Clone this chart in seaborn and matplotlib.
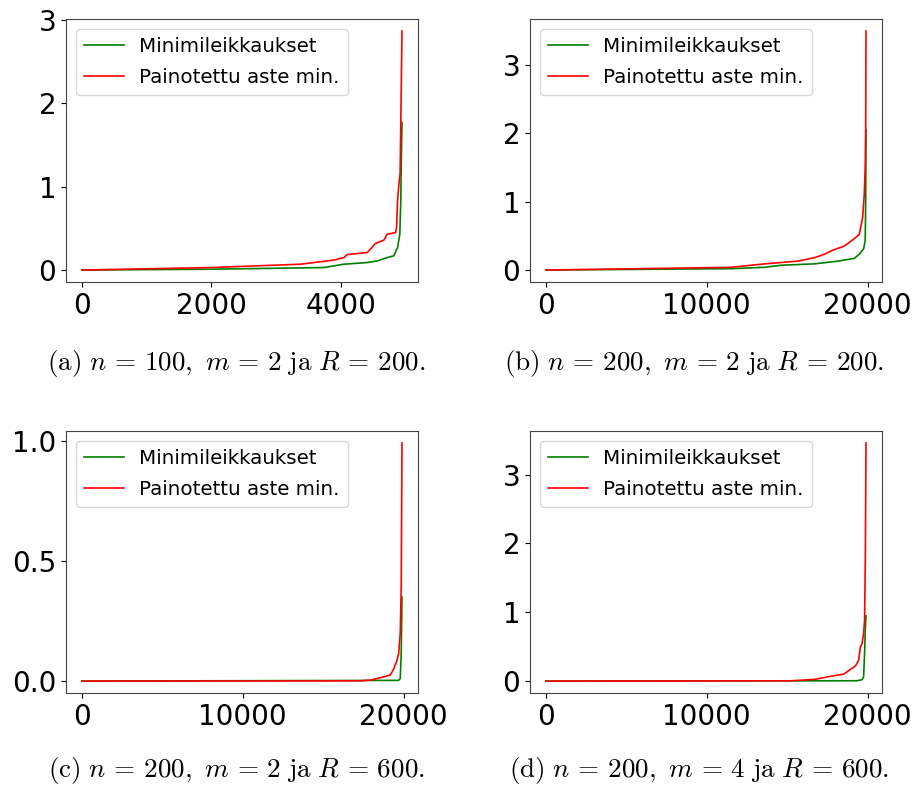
import numpy as np
import pandas as pd
import matplotlib
matplotlib.use("Agg")
import matplotlib.pyplot as plt
import seaborn as sns

# Sorted values, (x, y) knots per curve
# (a) n=100, m=2, R=200
a_green_x = [0, 2000, 3740, 4050, 4410, 4570, 4720, 4820, 4880, 4915, 4930, 4940, 4949]
a_green_y = [0.0, 0.01, 0.03, 0.07, 0.09, 0.11, 0.15, 0.17, 0.27, 0.43, 0.83, 1.4, 1.77]
a_red_x = [0, 2000, 3380, 3900, 4050, 4100, 4410, 4460, 4540, 4670, 4720, 4850, 4865, 4880, 4900, 4920, 4949]
a_red_y = [0.0, 0.03, 0.07, 0.12, 0.15, 0.185, 0.21, 0.25, 0.32, 0.36, 0.43, 0.45, 0.51, 0.83, 1.02, 1.16, 2.87]

# (b) n=200, m=2, R=200
b_green_x = [0, 11520, 13590, 14620, 16690, 18140, 19170, 19480, 19750, 19850, 19880, 19899]
b_green_y = [0.0, 0.02, 0.04, 0.07, 0.09, 0.13, 0.17, 0.23, 0.31, 0.43, 1.0, 2.05]
b_red_x = [0, 11520, 13590, 15650, 16690, 17310, 17830, 18550, 19070, 19480, 19690, 19790, 19850, 19880, 19899]
b_red_y = [0.0, 0.04, 0.09, 0.13, 0.18, 0.23, 0.29, 0.35, 0.44, 0.52, 0.77, 1.1, 1.5, 2.08, 3.49]

# (c) n=200, m=2, R=600
c_green_x = [0, 19690, 19790, 19850, 19899]
c_green_y = [0.0, 0.003, 0.011, 0.115, 0.35]
c_red_x = [0, 17310, 17930, 18550, 19170, 19380, 19590, 19690, 19790, 19850, 19899]
c_red_y = [0.0, 0.001, 0.004, 0.014, 0.025, 0.05, 0.087, 0.115, 0.2, 0.39, 0.993]

# (d) n=200, m=4, R=600
d_green_x = [0, 19340, 19650, 19750, 19810, 19860, 19899]
d_green_y = [0.0, 0.005, 0.02, 0.06, 0.4, 0.78, 0.95]
d_red_x = [0, 15210, 16660, 17280, 17690, 18510, 18930, 19240, 19440, 19550, 19650, 19750, 19810, 19860, 19899]
d_red_y = [0.0, 0.004, 0.024, 0.05, 0.07, 0.1, 0.17, 0.22, 0.3, 0.5, 0.54, 0.69, 0.88, 1.84, 3.46]

labels = ["Minimileikkaukset", "Painotettu aste min."]
captions = [
    r"$\mathrm{(a)}\ n\,=\,100,\ m\,=\,2\ \mathrm{ja}\ R\,=\,200.$",
    r"$\mathrm{(b)}\ n\,=\,200,\ m\,=\,2\ \mathrm{ja}\ R\,=\,200.$",
    r"$\mathrm{(c)}\ n\,=\,200,\ m\,=\,2\ \mathrm{ja}\ R\,=\,600.$",
    r"$\mathrm{(d)}\ n\,=\,200,\ m\,=\,4\ \mathrm{ja}\ R\,=\,600.$",
]
xticks = [[0, 2000, 4000], [0, 10000, 20000], [0, 10000, 20000], [0, 10000, 20000]]
yticks = [[0, 1, 2, 3], [0, 1, 2, 3], [0.0, 0.5, 1.0], [0, 1, 2, 3]]
ytick_labels = [["0", "1", "2", "3"], ["0", "1", "2", "3"], ["0.0", "0.5", "1.0"], ["0", "1", "2", "3"]]

panels = [
    (a_green_x, a_green_y, a_red_x, a_red_y),
    (b_green_x, b_green_y, b_red_x, b_red_y),
    (c_green_x, c_green_y, c_red_x, c_red_y),
    (d_green_x, d_green_y, d_red_x, d_red_y),
]

plt.rcParams["mathtext.fontset"] = "cm"

fig = plt.figure(figsize=(9.19, 7.92), dpi=100)
W, H = 919, 792
# axes boxes in pixels: left, top, right, bottom
boxes = [(66, 19, 418, 282), (530, 19, 882, 282), (66, 431, 418, 693), (530, 431, 882, 693)]
cap_pos = [(236, 363), (694, 363), (236, 771), (699, 771)]

for i, (gx, gy, rx, ry) in enumerate(panels):
    l, t, r, b = boxes[i]
    ax = fig.add_axes([l / W, (H - b) / H, (r - l) / W, (b - t) / H])
    sns.lineplot(x=gx, y=gy, color="green", label=labels[0], ax=ax, lw=1.2, estimator=None, sort=False)
    sns.lineplot(x=rx, y=ry, color="red", label=labels[1], ax=ax, lw=1.2, estimator=None, sort=False)
    ax.set_xticks(xticks[i])
    ax.set_yticks(yticks[i])
    ax.set_yticklabels(ytick_labels[i])
    ax.tick_params(labelsize=20)
    for s in ax.spines.values():
        s.set_color("#444444")
    ax.legend(loc="upper left", fontsize=14.3, labelspacing=0.6)
    cx, cy = cap_pos[i]
    fig.text(cx / W, (H - cy) / H, captions[i], ha="center", va="center", fontsize=19.5)

fig.savefig("out.png", dpi=100)
